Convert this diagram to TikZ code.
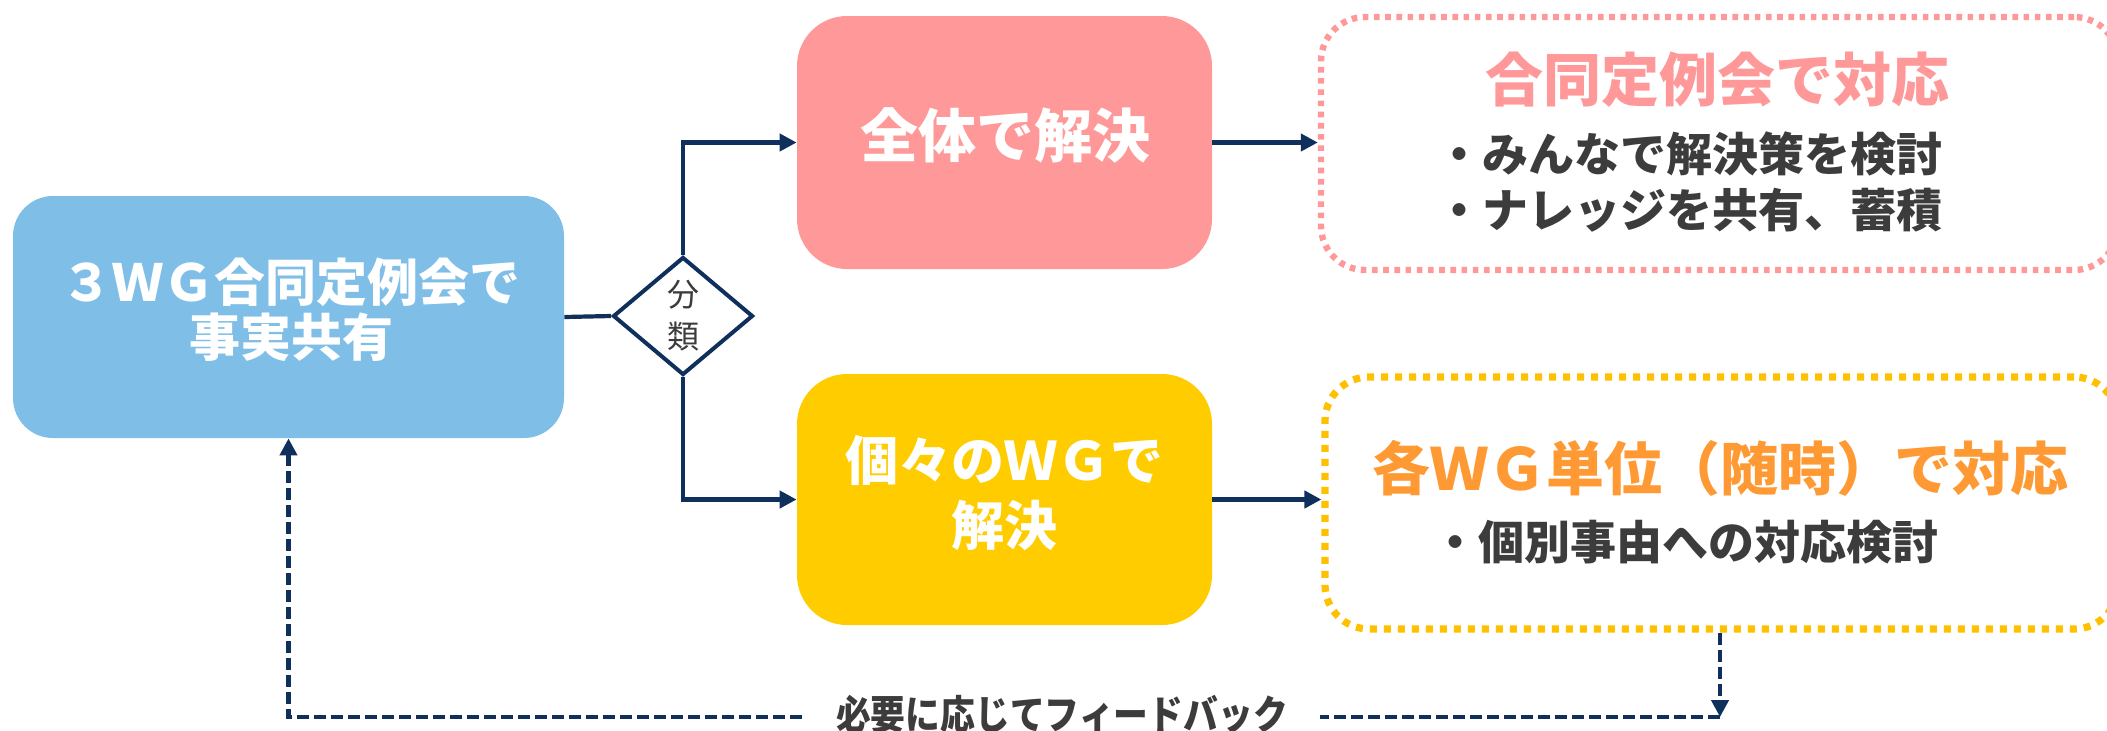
\documentclass[tikz,border=0pt]{standalone}
\usepackage{fontspec}
\setmainfont{Noto Sans CJK JP}
\usetikzlibrary{shapes.geometric,arrows.meta}
\definecolor{navy}{HTML}{0F2F5C}
\definecolor{sky}{HTML}{7FBFE7}
\definecolor{pinkc}{HTML}{FF9999}
\definecolor{yelc}{HTML}{FFCC00}
\definecolor{yeldot}{HTML}{FFC000}
\definecolor{orangec}{HTML}{FF9933}
\definecolor{dgray}{HTML}{3C3C3C}
\newcommand{\fsz}[2]{\fontsize{#1}{#2}\selectfont}
\begin{document}
\begin{tikzpicture}[x=0.5pt,y=-0.5pt,
  solidbox/.style={rectangle, draw=none, inner sep=0pt},
  wtext/.style={text=white, align=center, inner sep=0pt},
  conn/.style={draw=navy, line width=2.1pt},
  arr/.style={-{Triangle[length=8.5pt,width=8.5pt]}},
  fb/.style={draw=navy, line width=2.1pt, dash pattern=on 6pt off 2.5pt},
  dotbox/.style={rectangle, rounded corners=22pt, inner sep=0pt},
  bullet/.style={anchor=west, inner sep=0pt, text=dgray, font=\bfseries\fsz{23pt}{28pt}}
]
\useasboundingbox (0,0) rectangle (2107,730);
\clip (0,0) rectangle (2107,730);

% main boxes
\node[solidbox, fill=sky, rounded corners=20pt, minimum width=275.5pt, minimum height=121pt] (blue) at (288.5,317) {};
\node[wtext, font=\bfseries\fsz{25.5pt}{27.5pt}] (bluet) at (291,310) {３ＷＧ合同定例会で\\事実共有};

\node[solidbox, fill=pinkc, rounded corners=25pt, minimum width=207.5pt, minimum height=126.5pt] (pink) at (1004.5,142.5) {};
\node[wtext, font=\bfseries\fsz{29pt}{32pt}] (pinkt) at (1005,135) {全体で解決};

\node[solidbox, fill=yelc, rounded corners=25pt, minimum width=207.5pt, minimum height=125.5pt] (yellow) at (1004.5,499.5) {};
\node[wtext, font=\bfseries\fsz{26.5pt}{32.5pt}] (yellowt) at (1004.5,493.5) {個々のＷＧで\\解決};

% dotted boxes
\node[dotbox, draw=pinkc, line width=3.2pt, dash pattern=on 2.8pt off 2.8pt, minimum width=398.5pt, minimum height=126.5pt] (pinkd) at (1719.5,143.5) {};
\node[inner sep=0pt, text=pinkc, font=\bfseries\fsz{29pt}{32pt}] (pinkdt) at (1717,80) {合同定例会で対応};
\node[bullet] (pb1) at (1436,154) {・みんなで解決策を検討};
\node[bullet] (pb2) at (1436,210) {・ナレッジを共有、蓄積};

\node[dotbox, draw=yeldot, line width=3.6pt, dash pattern=on 3.5pt off 3.5pt, minimum width=396.5pt, minimum height=126pt] (yellowd) at (1721.5,503) {};
\node[inner sep=0pt, text=orangec, font=\bfseries\fsz{29pt}{32pt}] (yellowdt) at (1720,468) {各ＷＧ単位（随時）で対応};
\node[bullet] (yb1) at (1432,542) {・個別事由への対応検討};

% diamond
\node[diamond, draw=navy, line width=2pt, fill=white, inner sep=0pt, minimum width=70pt, minimum height=59pt, align=center, text=dgray, font=\fsz{16pt}{21pt}] (dia) at (683,316) {分\\類};

% connectors
\draw[conn] (blue.east) -- (dia.west);
\draw[conn, arr] (dia.north) |- (pink.west);
\draw[conn, arr] (dia.south) |- (yellow.west);
\draw[conn, arr] (pink.east) -- (pink.east -| pinkd.west);
\draw[conn, arr] (yellow.east) -- (yellow.east -| yellowd.west);

% feedback
\coordinate (fbr) at (1720,717);
\coordinate (fbl) at (288.5,717);
\draw[fb, arr] (fbr |- yellowd.south) -- (fbr);
\draw[fb, arr] (fbr) -- (fbl) -- (blue.south);
\node[fill=white, minimum width=258pt, inner ysep=2pt, text=dgray] (fbt) at (1062,714) {\scalebox{0.87}[1]{\bfseries\fsz{20pt}{22pt}必要に応じてフィードバック}};
\end{tikzpicture}
\end{document}
